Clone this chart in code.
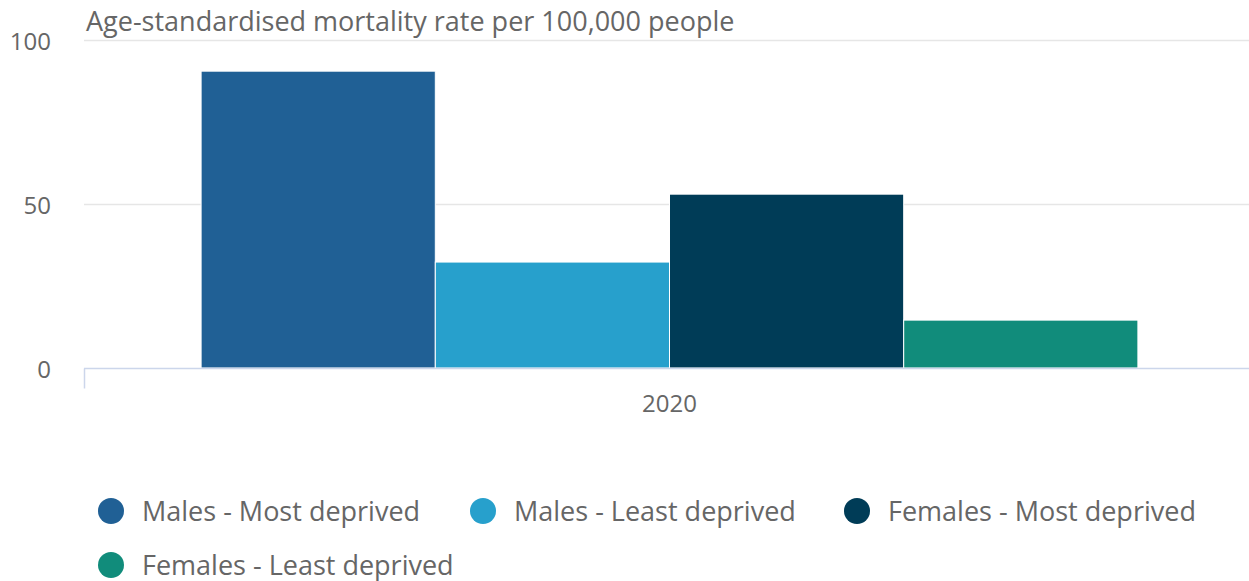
<!DOCTYPE html>
<html lang="en">
    <head>
        <meta charset="utf-8" />
        <title>Mortality rate by deprivation</title>
        <script src="https://d3js.org/d3.v7.min.js"></script>
        <style>
            body {
                margin: 0;
                background: #fff;
                font-family: "Open Sans", sans-serif;
            }
        </style>
    </head>
    <body>
        <div id="chart"></div>
        <script>
            // data
            var categories = ["2020"];
            var seriesNames = [
                "Males - Most deprived",
                "Males - Least deprived",
                "Females - Most deprived",
                "Females - Least deprived",
            ];
            var seriesValues = [[90.5], [32.3], [53.0], [14.6]];
            var seriesColors = ["#206095", "#27a0cc", "#003c57", "#118c7b"];
            var yTicks = [0, 50, 100];
            var yTitle = "Age-standardised mortality rate per 100,000 people";

            var width = 1249,
                height = 581;
            var margin = { top: 40, right: -6, bottom: 213, left: 84 };

            var svg = d3
                .select("#chart")
                .append("svg")
                .attr("width", width)
                .attr("height", height);

            var x = d3
                .scaleBand()
                .domain(categories)
                .range([margin.left, width - margin.right])
                .padding(0);

            // groupPadding 0.1 on each side
            var xInner = d3
                .scaleBand()
                .domain(seriesNames)
                .range([x.bandwidth() * 0.1, x.bandwidth() * 0.9])
                .padding(0);

            var y = d3
                .scaleLinear()
                .domain([0, 100])
                .range([height - margin.bottom, margin.top]);

            // grid
            svg.append("g")
                .selectAll("line")
                .data(yTicks.filter((d) => d !== 0))
                .join("line")
                .attr("x1", margin.left)
                .attr("x2", width)
                .attr("y1", (d) => y(d) + 0.5)
                .attr("y2", (d) => y(d) + 0.5)
                .attr("stroke", "#e6e6e6")
                .attr("stroke-width", 1.5);

            // y labels
            svg.append("g")
                .selectAll("text")
                .data(yTicks)
                .join("text")
                .attr("x", 51)
                .attr("y", (d) => y(d) + 1)
                .attr("dy", "0.36em")
                .attr("text-anchor", "end")
                .attr("fill", "#666")
                .style("font-size", "24px")
                .text((d) => d);

            svg.append("text")
                .attr("x", 86)
                .attr("y", 31)
                .attr("fill", "#666")
                .style("font-size", "27px")
                .text(yTitle);

            // bars
            var group = svg
                .append("g")
                .selectAll("g")
                .data(categories)
                .join("g")
                .attr("transform", (d) => "translate(" + x(d) + ",0)");

            group
                .selectAll("rect")
                .data((d, i) =>
                    seriesNames.map((s, j) => ({
                        name: s,
                        value: seriesValues[j][i],
                        color: seriesColors[j],
                    }))
                )
                .join("rect")
                .attr("x", (d) => xInner(d.name))
                .attr("width", xInner.bandwidth())
                .attr("y", (d) => y(d.value))
                .attr("height", (d) => y(0) - y(d.value))
                .attr("fill", (d) => d.color)
                .attr("stroke", "#fff")
                .attr("stroke-width", 1);

            // x axis
            var xAxisY = y(0) + 0.5;
            svg.append("line")
                .attr("x1", margin.left)
                .attr("x2", width)
                .attr("y1", xAxisY)
                .attr("y2", xAxisY)
                .attr("stroke", "#ccd6eb")
                .attr("stroke-width", 1.5);
            svg.append("line")
                .attr("x1", margin.left + 0.5)
                .attr("x2", margin.left + 0.5)
                .attr("y1", xAxisY)
                .attr("y2", xAxisY + 20)
                .attr("stroke", "#ccd6eb")
                .attr("stroke-width", 1.5);

            svg.append("g")
                .selectAll("text")
                .data(categories)
                .join("text")
                .attr("x", (d) => x(d) + x.bandwidth() / 2)
                .attr("y", 412)
                .attr("text-anchor", "middle")
                .attr("fill", "#666")
                .style("font-size", "24px")
                .text((d) => d);

            // legend
            var legendPos = [
                [111, 511],
                [483, 511],
                [857, 511],
                [111, 565],
            ];
            var legend = svg
                .append("g")
                .selectAll("g")
                .data(seriesNames)
                .join("g")
                .attr("transform", (d, i) => "translate(" + legendPos[i][0] + "," + legendPos[i][1] + ")");

            legend
                .append("circle")
                .attr("r", 13)
                .attr("fill", (d, i) => seriesColors[i]);

            legend
                .append("text")
                .attr("x", 31)
                .attr("dy", "0.36em")
                .attr("fill", "#666")
                .style("font-size", "27px")
                .text((d) => d);
        </script>
    </body>
</html>
